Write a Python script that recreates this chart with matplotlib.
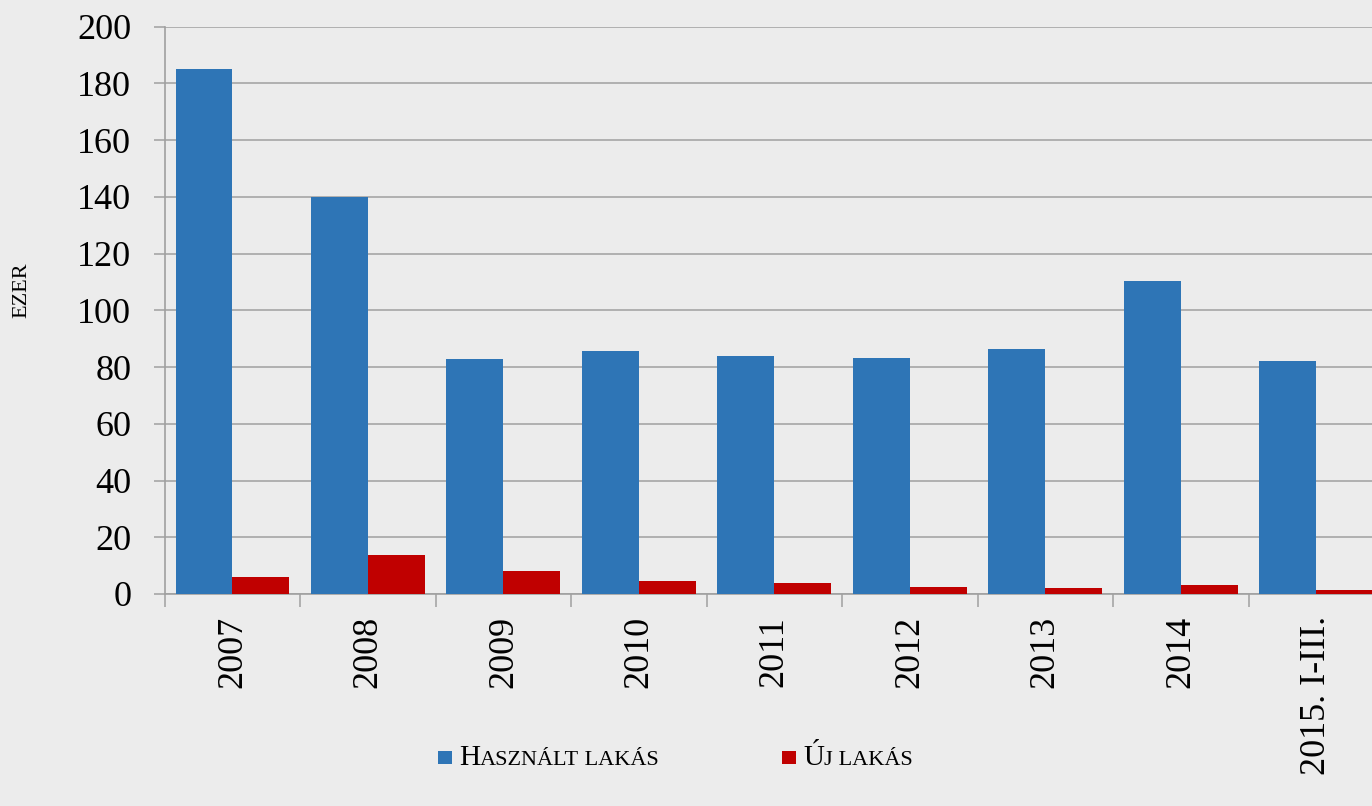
import numpy as np
import matplotlib
matplotlib.use('Agg')
import matplotlib.pyplot as plt
from matplotlib.patches import Rectangle

categories = ['2007', '2008', '2009', '2010', '2011', '2012', '2013', '2014', '2015. I-III.']
hasznalt = [185, 140, 83, 85.5, 84, 83.2, 86.2, 110.5, 82.2]
uj = [6.0, 13.9, 8.1, 4.6, 3.9, 2.5, 2.1, 3.2, 1.4]
yticks = list(range(0, 201, 20))

BG = '#ececec'
BLUE = '#2e75b6'
RED = '#c00000'
GRID = '#a0a0a0'

plt.rcParams['font.family'] = ['Liberation Serif', 'DejaVu Serif']

fig = plt.figure(figsize=(13.72, 8.06), dpi=100, facecolor=BG)
# axes run slightly past the right edge of the figure, like the original crop
ax = fig.add_axes([164.7 / 1372, 1 - 594 / 806, (1384 - 164.7) / 1372, (594 - 26.7) / 806])
ax.set_facecolor(BG)

x = np.arange(len(categories))
w = 0.42
ax.bar(x - w / 2, hasznalt, width=w, color=BLUE, zorder=3)
ax.bar(x + w / 2, uj, width=w, color=RED, zorder=3)

ax.set_xlim(-0.5, len(categories) - 0.5)
ax.set_ylim(0, 200)
ax.set_yticks(yticks)
ax.yaxis.grid(True, color=GRID, linewidth=1.1, zorder=0)
ax.tick_params(axis='y', length=8, width=1.1, color=GRID, labelsize=26, pad=16)

# category boundaries as major ticks, labels on minor ticks at centres
ax.set_xticks(np.arange(-0.5, len(categories), 1.0))
ax.set_xticklabels([])
ax.set_xticks(x, minor=True)
ax.set_xticklabels(categories, minor=True, rotation=90, fontsize=26)
ax.tick_params(axis='x', which='major', length=9, width=1.1, color=GRID)
ax.tick_params(axis='x', which='minor', length=0, pad=16)

for s in ['top', 'right']:
    ax.spines[s].set_visible(False)
for s in ['left', 'bottom']:
    ax.spines[s].set_color(GRID)
    ax.spines[s].set_linewidth(1.2)

fig.text(22 / 1372, 1 - 290 / 806, 'EZER', rotation=90, ha='center', va='center', fontsize=16)

# legend with small-caps style labels
fig.canvas.draw()
renderer = fig.canvas.get_renderer()


def small_caps(x0, y0, text, big=21, small=16):
    xpos = x0
    for i, word in enumerate(text.split(' ')):
        parts = [(word[0], big), (word[1:].upper(), small)] if i == 0 else [(' ' + word.upper(), small)]
        for s, size in parts:
            if not s:
                continue
            t = fig.text(xpos, y0, s, fontsize=size, va='baseline', ha='left')
            ext = t.get_window_extent(renderer)
            xpos = ext.x1 / fig.bbox.width


legend_items = [('Használt lakás', BLUE, 438), ('Új lakás', RED, 782)]
for label, color, px in legend_items:
    fig.patches.append(Rectangle((px / 1372, 1 - 764 / 806), 14 / 1372, 13 / 806,
                                 transform=fig.transFigure, facecolor=color, edgecolor='none'))
    small_caps((px + 21) / 1372, 1 - 765 / 806, label)

fig.savefig('out.png', dpi=100, facecolor=BG)
